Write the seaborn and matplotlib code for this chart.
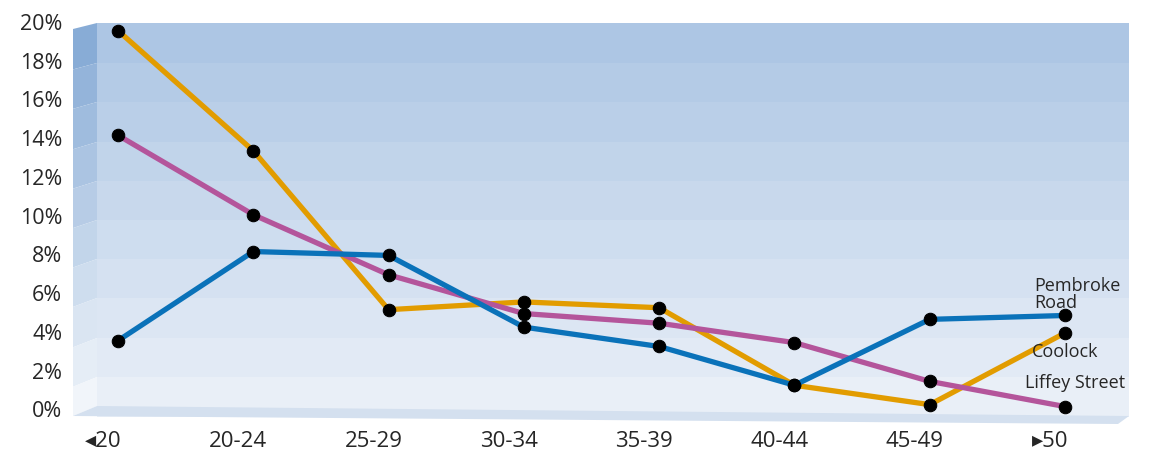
import matplotlib
matplotlib.use("Agg")
import matplotlib.pyplot as plt
import matplotlib.transforms as mtrans
from matplotlib.patches import Polygon
import seaborn as sns
import pandas as pd
import numpy as np

# ---------------- data ----------------
age_groups = ["◂20", "20-24", "25-29", "30-34", "35-39", "40-44", "45-49", "▸50"]
coolock = [19.5, 13.3, 5.1, 5.5, 5.2, 1.2, 0.2, 3.9]
liffey_street = [14.1, 10.0, 6.9, 4.9, 4.4, 3.4, 1.4, 0.1]
pembroke_road = [3.5, 8.1, 7.9, 4.2, 3.2, 1.2, 4.6, 4.8]
series_names = ["Coolock", "Liffey Street", "Pembroke Road"]
series_labels = ["Coolock", "Liffey Street", "Pembroke\nRoad"]
y_ticks = [0, 2, 4, 6, 8, 10, 12, 14, 16, 18, 20]
y_tick_labels = [f"{v}%" for v in y_ticks]

colors = {"Coolock": "#e29c00", "Liffey Street": "#b4559b", "Pembroke Road": "#0a72b9"}

df = pd.DataFrame({
    "age": age_groups * 3,
    "value": coolock + liffey_street + pembroke_road,
    "series": sum([[n] * len(age_groups) for n in series_names], []),
})

# ---------------- figure ----------------
sns.set_theme(style="white")
plt.rcParams["font.family"] = ["Open Sans", "DejaVu Sans"]

W, H = 1155, 452
fig = plt.figure(figsize=(W / 100, H / 100), dpi=100)
AX_L, AX_R, AX_T, AX_B = 72, 1129, 20, 425
ax = fig.add_axes([AX_L / W, (H - AX_B) / H, (AX_R - AX_L) / W, (AX_B - AX_T) / H])


def fx(px):
    return (px - AX_L) / (AX_R - AX_L)


def fy(py):
    return (AX_B - py) / (AX_B - AX_T)


# back wall bands
edges = [24, 64, 103, 143, 182, 221, 260, 299, 339, 378, 418]
top_c = np.array([173, 198, 228]) / 255
bot_c = np.array([233, 239, 247]) / 255
lw_top = np.array([136, 172, 214]) / 255
lw_bot = np.array([241, 245, 250]) / 255
n = len(edges) - 1
for i in range(n):
    t = i / (n - 1)
    c = top_c * (1 - t) + bot_c * t
    y0, y1 = edges[i], edges[i + 1]
    ax.add_patch(Polygon([(fx(97), fy(y0)), (fx(AX_R), fy(y0)), (fx(AX_R), fy(y1)), (fx(97), fy(y1))],
                         closed=True, transform=ax.transAxes, facecolor=c, edgecolor="none", zorder=0))
    # left side wall
    cl = lw_top * (1 - t) + lw_bot * t
    off0 = 6 + 4 * (y0 - 24) / (408 - 24)
    y1w = min(y1, 407)
    off1 = 6 + 4 * (y1w - 24) / (408 - 24)
    ax.add_patch(Polygon([(fx(73), fy(y0 + off0)), (fx(97), fy(y0)), (fx(97), fy(y1w)), (fx(73), fy(y1w + off1))],
                         closed=True, transform=ax.transAxes, facecolor=cl, edgecolor="none", zorder=0))

# floor
ax.add_patch(Polygon([(fx(73), fy(417)), (fx(97), fy(407)), (fx(1129), fy(417)), (fx(1118), fy(425))],
                     closed=True, transform=ax.transAxes, facecolor="#d4e0ef", edgecolor="none", zorder=0.5))

# ---------------- lines ----------------
sns.lineplot(data=df, x="age", y="value", hue="series", palette=colors, hue_order=series_names,
             sort=False, linewidth=3.8, marker="o", markersize=9, markerfacecolor="black",
             markeredgecolor="black", legend=False, ax=ax, zorder=3)

ax.set_xlim(-0.34, 7 + (AX_R - 1065) / 135.3)
ax.set_ylim(-0.8, 20.1)
ax.set_xlabel("")
ax.set_ylabel("")
ax.set_yticks(y_ticks)
ax.set_yticklabels(y_tick_labels)
ax.set_xticks(range(len(age_groups)))
ax.set_xticklabels(age_groups)
ax.tick_params(axis="y", length=0, pad=7, labelsize=15.5, labelcolor="#262626")
ax.tick_params(axis="x", length=0, pad=4, labelsize=16, labelcolor="#262626")
offset = mtrans.ScaledTranslation(-15 / 100, 0, fig.dpi_scale_trans)
for lab in ax.get_xticklabels():
    lab.set_transform(lab.get_transform() + offset)
for s in ax.spines.values():
    s.set_visible(False)
ax.patch.set_alpha(0)

# series labels
last = {"Coolock": coolock[-1], "Liffey Street": liffey_street[-1], "Pembroke Road": pembroke_road[-1]}
label_offsets = {"Pembroke Road": (-31, 4, "bottom"), "Coolock": (-33, -18, "center"), "Liffey Street": (-40, 25, "center")}
for name, lab in zip(series_names, series_labels):
    dx, dy, va = label_offsets[name]
    ax.annotate(lab, xy=(len(age_groups) - 1, last[name]), xytext=(dx, dy), textcoords="offset pixels",
                ha="left", va=va, fontsize=13, color="#262626", linespacing=0.95, zorder=5)

fig.savefig("out.png", dpi=100, facecolor="white")
